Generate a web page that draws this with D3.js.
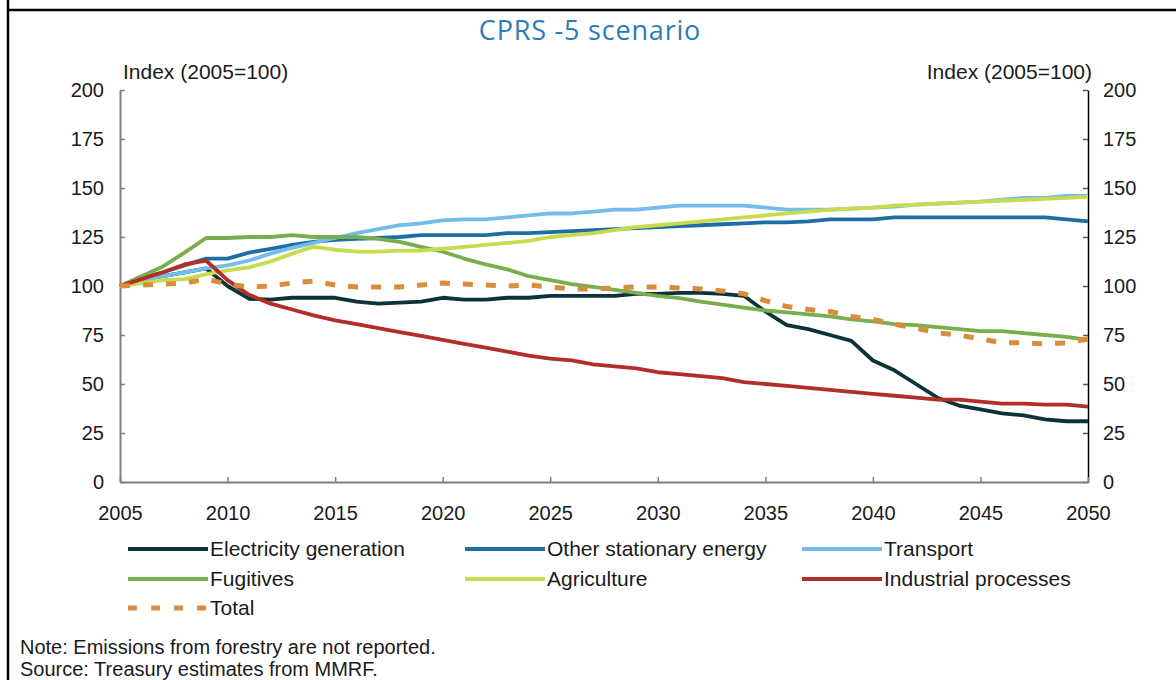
<!DOCTYPE html>
<html>
<head>
<meta charset="utf-8">
<script src="https://cdn.jsdelivr.net/npm/d3@7"></script>
<style>
  html, body { margin: 0; padding: 0; background: #fff; }
  svg { display: block; }
  text { font-family: "Liberation Sans", Arial, sans-serif; fill: #1a1a1a; }
</style>
</head>
<body>
<svg id="chart" width="1176" height="680"></svg>
<script>
// Emissions by sector, CPRS -5 scenario, index 2005 = 100
const years = d3.range(2005, 2051);

const electricity = [100,103,105,107,109,100,93.5,93,94,94,94,92,91,91.5,92,94,93,93,94,94,
  95,95,95,95,96,96,96.5,96.5,96,95,87,80,78,75,72,62,57,50,43,39,37,35,34,32,31,31];
const otherStationary = [100,104,107,110.5,114,114,117,119,121,122.5,123.5,124,124.5,125,126,126,126,126,127,127,
  127.5,128,128.5,129,129.5,130,130.5,131,131.5,132,132.5,132.5,133,134,134,134,135,135,135,135,135,135,135,135,134,133];
const transport = [100,103,105,107,109,110.5,113,116.5,119.5,122,124.5,127,129,131,132,133.5,134,134,135,136,
  137,137,138,139,139,140,141,141,141,141,140,139,139,139,139.5,140,140.5,141.5,142,142.5,143,144,145,145,146,146];
const fugitives = [100,105,110,117,124.5,124.5,125,125,126,125,125,125,124,122.5,120,117.5,114,111,108.5,105,
  103,101,99.5,98,96.5,95,93.8,92,90.5,89,87.5,86.5,85.5,84.5,83,82,80.5,80,79,78,77,77,76,75,74,72.5];
const agriculture = [100,101.5,103,103.5,106,108,109.5,112.5,116.5,120,118.5,117.5,117.5,118,118,119,120,121,122,123,
  125,126,127,128.5,130,131,132,133,134,135,136,137,138,139,139.5,140,141,141.5,142,142.5,143,143.5,144,144.5,145,145.5];
const industrial = [100,103.5,107,111,113,103,95.5,91,88,85,82.5,80.5,78.5,76.5,74.5,72.5,70.5,68.5,66.5,64.5,
  63,62,60,59,58,56,55,54,53,51,50,49,48,47,46,45,44,43,42,42,41,40,40,39.5,39.5,38.5];
const total = [100,100.5,101,101.5,103.5,101,99.5,100,101.5,102.5,100.5,99.5,99.5,99.5,100.5,101.5,101,100.5,100,100.5,
  99.5,98.5,98.5,99,99.5,99.5,99,98.5,97.5,96,92.5,89.5,88,87,84.5,83,80.5,78.5,76,75,73,71,71,70.5,71,73];

const seriesNames = ["Electricity generation","Other stationary energy","Transport",
  "Fugitives","Agriculture","Industrial processes","Total"];
const seriesValues = [electricity, otherStationary, transport, fugitives, agriculture, industrial, total];
const seriesColors = ["#0c3338","#1e6ea5","#74bde9","#79ae4c","#c6db4d","#b12f28","#da8c3d"];

const yTicks = [0,25,50,75,100,125,150,175,200];
const xTicks = [2005,2010,2015,2020,2025,2030,2035,2040,2045,2050];

const svg = d3.select("#chart");

// frame lines
svg.append("line").attr("x1",8).attr("x2",8).attr("y1",0).attr("y2",680)
  .attr("stroke","#000").attr("stroke-width",2.5);
svg.append("line").attr("x1",8).attr("x2",1176).attr("y1",10).attr("y2",10)
  .attr("stroke","#000").attr("stroke-width",2.5);

const x = d3.scaleLinear().domain([2005,2050]).range([120,1088]);
const y = d3.scaleLinear().domain([0,200]).range([482,90]);

// title
svg.append("text").attr("x",590).attr("y",40).attr("text-anchor","middle")
  .style("font-family","'Open Sans', sans-serif").style("font-size","27px")
  .style("letter-spacing","0.8px")
  .style("fill","#2a7db8").text("CPRS -5 scenario");

// axis titles
svg.append("text").attr("x",123).attr("y",79).style("font-size","21px").text("Index (2005=100)");
svg.append("text").attr("x",1092).attr("y",79).attr("text-anchor","end").style("font-size","21px").text("Index (2005=100)");

// axes
const gL = svg.append("g").attr("transform","translate(120,0)")
  .call(d3.axisLeft(y).tickValues(yTicks).tickSizeInner(-5).tickSizeOuter(0).tickPadding(16));
const gR = svg.append("g").attr("transform","translate(1088,0)")
  .call(d3.axisRight(y).tickValues(yTicks).tickSizeInner(-5).tickSizeOuter(0).tickPadding(15));
const gB = svg.append("g").attr("transform","translate(0,482)")
  .call(d3.axisBottom(x).tickValues(xTicks).tickFormat(d3.format("d")).tickSizeInner(-5).tickSizeOuter(0).tickPadding(24));

[gL,gB].forEach(g => {
  g.select(".domain").attr("stroke","#808080").attr("stroke-width",2);
  g.selectAll(".tick line").attr("stroke","#808080").attr("stroke-width",1.5);
});
gR.select(".domain").attr("stroke","#000").attr("stroke-width",1.5);
gR.selectAll(".tick line").attr("stroke","#555").attr("stroke-width",1.5);
[gL,gR,gB].forEach(g => {
  g.selectAll(".tick text").style("font-family","'Liberation Sans', Arial, sans-serif")
    .style("font-size","20px").attr("fill","#1a1a1a");
});

// series lines
const line = d3.line().x((d,i) => x(years[i])).y(d => y(d));
seriesValues.forEach((vals, k) => {
  const isTotal = seriesNames[k] === "Total";
  svg.append("path").datum(vals)
    .attr("fill","none")
    .attr("stroke",seriesColors[k])
    .attr("stroke-width", isTotal ? 5 : 3.8)
    .attr("stroke-linejoin","round")
    .attr("stroke-dasharray", isTotal ? "10,13" : null)
    .attr("d", line);
});

// legend
const legendCols = [128, 465, 802];
const legendRows = [549, 579, 608];
seriesNames.forEach((name, k) => {
  const cx = legendCols[k % 3], cy = legendRows[Math.floor(k / 3)];
  const isTotal = name === "Total";
  svg.append("line").attr("x1",cx).attr("x2",cx+80).attr("y1",cy).attr("y2",cy)
    .attr("stroke",seriesColors[k]).attr("stroke-width", isTotal ? 5 : 4)
    .attr("stroke-dasharray", isTotal ? "9,14" : null);
  svg.append("text").attr("x",cx+82).attr("y",cy+7).style("font-size","21px").text(name);
});

// notes
svg.append("text").attr("x",20).attr("y",654).style("font-size","20px")
  .text("Note: Emissions from forestry are not reported.");
svg.append("text").attr("x",20).attr("y",676).style("font-size","20px")
  .text("Source: Treasury estimates from MMRF.");
</script>
</body>
</html>
